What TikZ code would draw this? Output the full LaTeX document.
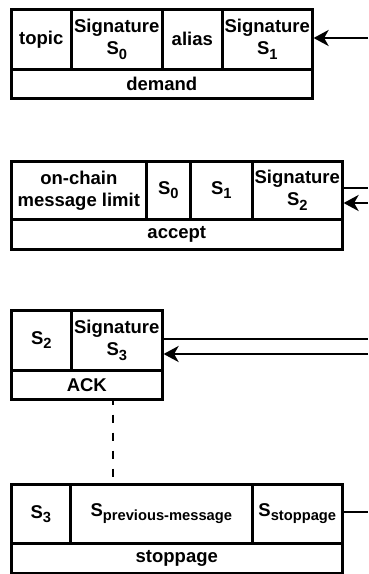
\documentclass[tikz,border=0pt]{standalone}
\usepackage{fontspec}
\setmainfont{Liberation Sans}
\usetikzlibrary{arrows.meta}
\newcommand\subs[1]{\raisebox{-4.3pt}{\fontsize{14.7}{14}\selectfont #1}}
\tikzset{
  cell/.style={draw, line width=2.6pt, inner sep=0pt, anchor=north west, align=center,
    font=\fontsize{18.5}{22}\selectfont\bfseries},
  conn/.style={line width=2.6pt},
  arr/.style={line width=2.6pt, -{Stealth[length=15pt,width=16pt,inset=4.5pt]}},
}
\newcommand\cellat[6]{% name, x1, y1, x2, y2, text
  \node[cell, minimum width={(#4-#2)*1pt}, minimum height={(#5-#3)*1pt}] (#1) at (#2,#3) {#6};}
\begin{document}
\begin{tikzpicture}[x=1pt,y=-1pt]
\useasboundingbox (0,0) rectangle (368,574);
% block 1
\cellat{topic}{10}{8}{70}{68}{topic}
\cellat{sigA}{70}{8}{161}{68}{Signature\\S\subs{0}}
\cellat{alias}{161}{8}{221}{68}{alias}
\cellat{sigB}{221}{8}{311}{68}{Signature\\S\subs{1}}
\cellat{demand}{10}{68}{311}{97}{demand}
% block 2
\cellat{limit}{10}{160}{145}{218}{on-chain\\message limit}
\cellat{bS0}{145}{160}{189}{218}{S\subs{0}}
\cellat{bS1}{189}{160}{251}{218}{S\subs{1}}
\cellat{sigC}{251}{160}{341}{218}{Signature\\S\subs{2}}
\cellat{accept}{10}{218}{341}{248}{accept}
% block 3
\cellat{cS2}{10}{309}{70}{369}{S\subs{2}}
\cellat{sigD}{70}{309}{161}{369}{Signature\\S\subs{3}}
\cellat{ack}{10}{369}{161}{398}{ACK}
% block 4
\cellat{dS3}{10}{483}{69}{542}{S\subs{3}}
\cellat{prev}{69}{483}{251}{542}{S\subs{previous-message}}
\cellat{stopS}{251}{483}{341}{542}{S\subs{stoppage}}
\cellat{stoppage}{10}{542}{341}{572}{stoppage}
% free ends
\coordinate (e1) at (368,38);
\coordinate (e2a) at (368,188);
\coordinate (e2b) at (368,203);
\coordinate (e3a) at (368,339);
\coordinate (e3b) at (368,354);
\coordinate (e4) at (368,512);
\coordinate (dx) at (113,0);
% connectors
\draw[arr] (e1) -- (e1 -| sigB.east);
\draw[conn] (e2a -| sigC.east) -- (e2a);
\draw[arr] (e2b) -- (e2b -| sigC.east);
\draw[conn] (e3a -| sigD.east) -- (e3a);
\draw[arr] (e3b) -- (e3b -| sigD.east);
\draw[conn] (e4 -| stopS.east) -- (e4);
\draw[conn, dash pattern=on 8pt off 10pt, dash phase=4pt] (dx |- ack.south) -- (dx |- dS3.north);
\end{tikzpicture}
\end{document}
